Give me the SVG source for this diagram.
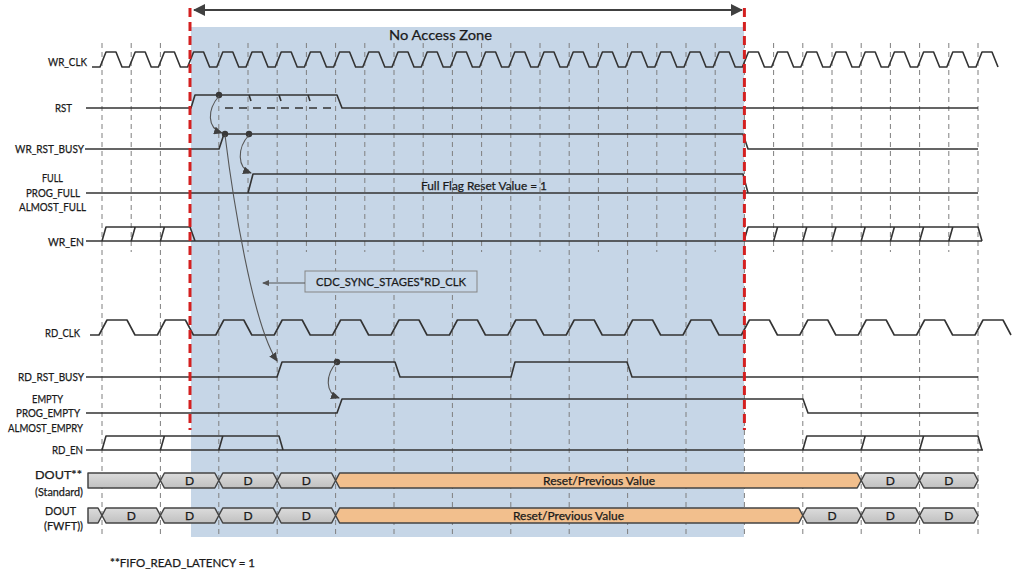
<svg xmlns="http://www.w3.org/2000/svg" width="1013" height="574" viewBox="0 0 1013 574">
<style>
text{font-family:Lato,"Open Sans","Liberation Sans",sans-serif;fill:#1a1a1a;stroke:#1a1a1a;stroke-width:0.25}
.lbl{font-size:11.8px}
.d{font-size:12px;text-anchor:middle}
.wave{fill:none;stroke:#333;stroke-width:1.6;stroke-linejoin:round}
.thin{fill:none;stroke:#555;stroke-width:1.1}
.grid{fill:none;stroke:#7f7f7f;stroke-width:1;stroke-dasharray:5 4}
.red{fill:none;stroke:#d42020;stroke-width:3;stroke-dasharray:9 5}
.bus{fill:url(#gg);stroke:#444;stroke-width:1.5;stroke-linejoin:round}
.org{fill:#f2bf8d;stroke:#444;stroke-width:1.5;stroke-linejoin:round}
.dot{fill:#383838}
</style>
<defs>
<linearGradient id="gg" x1="0" y1="0" x2="0" y2="1">
<stop offset="0" stop-color="#dcdcdc"/><stop offset="1" stop-color="#c0c0c0"/>
</linearGradient>
<marker id="ah" markerWidth="9" markerHeight="8" refX="8" refY="4" orient="auto" markerUnits="userSpaceOnUse"><path d="M0,0 L9,4 L0,8 Z" fill="#404040"/></marker>
<marker id="ahs" markerWidth="7" markerHeight="6" refX="6" refY="3" orient="auto" markerUnits="userSpaceOnUse"><path d="M0,0 L7,3 L0,6 Z" fill="#555"/></marker>
<marker id="big" markerWidth="12" markerHeight="12" refX="11" refY="6" orient="auto-start-reverse" markerUnits="userSpaceOnUse"><path d="M0,0 L12,6 L0,12 Z" fill="#404040"/></marker>
</defs>
<rect width="1013" height="574" fill="#fff"/>
<g id="zone">
<rect x="191" y="27" width="553" height="510" fill="#c6d6e7"/>
<text x="389" y="40" style="font-size:14px" textLength="103" lengthAdjust="spacingAndGlyphs">No Access Zone</text>
</g>
<g id="grid">
<path class="grid" d="M102,43V535 M160.4,43V535 M218.8,43V535 M277.2,43V535 M335.6,43V535 M394,43V535 M452.4,43V535 M510.8,43V535 M569.2,43V535 M627.6,43V535 M686,43V535 M744.4,43V535 M802.8,43V535 M861.2,43V535 M919.6,43V535 M978,43V535
M131.2,43V252 M248,43V252 M306.4,43V252 M364.8,43V252 M423.2,43V252 M481.6,43V252 M540,43V252 M598.4,43V252 M656.8,43V252 M715.2,43V252 M773.6,43V252 M832,43V252 M890.4,43V252 M948.8,43V252"/>
</g>
<g id="labels" class="lbl">
<text x="48" y="66" textLength="39" lengthAdjust="spacingAndGlyphs">WR_CLK</text>
<text x="55" y="112" textLength="17" lengthAdjust="spacingAndGlyphs">RST</text>
<text x="15" y="153" textLength="69" lengthAdjust="spacingAndGlyphs">WR_RST_BUSY</text>
<text x="42" y="182" textLength="21" lengthAdjust="spacingAndGlyphs">FULL</text>
<text x="26" y="197" textLength="54" lengthAdjust="spacingAndGlyphs">PROG_FULL</text>
<text x="19" y="211" textLength="67" lengthAdjust="spacingAndGlyphs">ALMOST_FULL</text>
<text x="48" y="246" textLength="36" lengthAdjust="spacingAndGlyphs">WR_EN</text>
<text x="45" y="337" textLength="35" lengthAdjust="spacingAndGlyphs">RD_CLK</text>
<text x="18" y="381" textLength="66" lengthAdjust="spacingAndGlyphs">RD_RST_BUSY</text>
<text x="32" y="403" textLength="31" lengthAdjust="spacingAndGlyphs">EMPTY</text>
<text x="16" y="417" textLength="64" lengthAdjust="spacingAndGlyphs">PROG_EMPTY</text>
<text x="8" y="432" textLength="75" lengthAdjust="spacingAndGlyphs">ALMOST_EMPRY</text>
<text x="52" y="454" textLength="31" lengthAdjust="spacingAndGlyphs">RD_EN</text>
<text x="35" y="479" textLength="47" lengthAdjust="spacingAndGlyphs">DOUT**</text>
<text x="35" y="496" textLength="48" lengthAdjust="spacingAndGlyphs">(Standard)</text>
<text x="45" y="515" textLength="31" lengthAdjust="spacingAndGlyphs">DOUT</text>
<text x="44" y="530" textLength="39" lengthAdjust="spacingAndGlyphs">(FWFT))</text>
<text x="110" y="567" textLength="145" lengthAdjust="spacingAndGlyphs">**FIFO_READ_LATENCY = 1</text>
</g>
<g id="wr_clk">
<path class="wave" d="M92,67 H100 l6,-15 h10 l6,15 h7.2 l6,-15 h10 l6,15 h7.2 l6,-15 h10 l6,15 h7.2 l6,-15 h10 l6,15 h7.2 l6,-15 h10 l6,15 h7.2 l6,-15 h10 l6,15 h7.2 l6,-15 h10 l6,15 h7.2 l6,-15 h10 l6,15 h7.2 l6,-15 h10 l6,15 h7.2 l6,-15 h10 l6,15 h7.2 l6,-15 h10 l6,15 h7.2 l6,-15 h10 l6,15 h7.2 l6,-15 h10 l6,15 h7.2 l6,-15 h10 l6,15 h7.2 l6,-15 h10 l6,15 h7.2 l6,-15 h10 l6,15 h7.2 l6,-15 h10 l6,15 h7.2 l6,-15 h10 l6,15 h7.2 l6,-15 h10 l6,15 h7.2 l6,-15 h10 l6,15 h7.2 l6,-15 h10 l6,15 h7.2 l6,-15 h10 l6,15 h7.2 l6,-15 h10 l6,15 h7.2 l6,-15 h10 l6,15 h7.2 l6,-15 h10 l6,15 h7.2 l6,-15 h10 l6,15 h7.2 l6,-15 h10 l6,15 h7.2 l6,-15 h10 l6,15 h7.2 l6,-15 h10 l6,15 h7.2 l6,-15 h10 l6,15 h7.2 l6,-15 h10 l6,15"/>
</g>
<g id="rst">
<path class="wave" d="M86,108 H191 L195,95 H337 L342,108 H978"/>
<path class="wave" d="M225,108 H337" stroke-dasharray="8 6"/>
<path class="wave" d="M249,95 L251,101 M279,95 L281,101 M308,95 L310,101"/>
<circle class="dot" cx="219" cy="95" r="3.2"/>
</g>
<g id="wr_rst_busy">
<path class="wave" d="M85,149 H219 L224,134 H743 L748,149 H978"/>
<circle class="dot" cx="225" cy="134" r="3.2"/>
<circle class="dot" cx="249" cy="134" r="3.2"/>
</g>
<g id="full">
<path class="wave" d="M86,193 H248 L253,174 H743 L748,193 M248,193 H978"/>
<text x="421" y="190" style="font-size:12px" textLength="126" lengthAdjust="spacingAndGlyphs">Full Flag Reset Value = 1</text>
</g>
<g id="wr_en">
<path class="wave" d="M86,241 H982 M102,241 L106,227 H190 L195,241 M131.2,241 L135.2,227 M160.4,241 L164.4,227 M744,241 L748,227 H978 L982,241 M773.6,241 L777.6,227 M802.8,241 L806.8,227 M832,241 L836,227 M861.2,241 L865.2,227 M890.4,241 L894.4,227 M919.6,241 L923.6,227 M948.8,241 L952.8,227"/>
</g>
<g id="cdc">
<rect x="305" y="271" width="172" height="21" fill="#c6d6e7" stroke="#858585" stroke-width="1"/>
<text x="316" y="286" style="font-size:12px" textLength="150" lengthAdjust="spacingAndGlyphs">CDC_SYNC_STAGES*RD_CLK</text>
</g>
<g id="rd_clk">
<path class="wave" d="M90,335 H99 l8,-15 h20 l8,15 h22.4 l8,-15 h20 l8,15 h22.4 l8,-15 h20 l8,15 h22.4 l8,-15 h20 l8,15 h22.4 l8,-15 h20 l8,15 h22.4 l8,-15 h20 l8,15 h22.4 l8,-15 h20 l8,15 h22.4 l8,-15 h20 l8,15 h22.4 l8,-15 h20 l8,15 h22.4 l8,-15 h20 l8,15 h22.4 l8,-15 h20 l8,15 h22.4 l8,-15 h20 l8,15 h22.4 l8,-15 h20 l8,15 h22.4 l8,-15 h20 l8,15 h22.4 l8,-15 h20 l8,15 h22.4 l8,-15 h20 l8,15"/>
</g>
<g id="rd_rst_busy">
<path class="wave" d="M86,377 H277 L282,362 H395 L400,377 H511 L515,362 H627 L632,377 H978"/>
<circle class="dot" cx="337" cy="362" r="3.2"/>
</g>
<g id="empty">
<path class="wave" d="M86,413 H337 L342,399 H803 L808,413 H978"/>
</g>
<g id="rd_en">
<path class="wave" d="M86,450 H983 M102,450 L106,436 H279 L283,450 M160.4,450 L164.4,436 M218.8,450 L222.8,436 M802.8,450 L806.8,436 H978 L982,450 M861.2,450 L865.2,436 M919.6,450 L923.6,436"/>
</g>
<g id="dout_std">
<path class="bus" d="M88,473 H156.4 L160.4,480.5 L156.4,488 H88 Z"/>
<path class="bus" d="M160.4,480.5 L164.4,473 H214.8 L218.8,480.5 L214.8,488 H164.4 Z"/>
<path class="bus" d="M218.8,480.5 L222.8,473 H273.2 L277.2,480.5 L273.2,488 H222.8 Z"/>
<path class="bus" d="M277.2,480.5 L281.2,473 H331.6 L335.6,480.5 L331.6,488 H281.2 Z"/>
<path class="org" d="M335.6,480.5 L339.6,473 H857.2 L861.2,480.5 L857.2,488 H339.6 Z"/>
<path class="bus" d="M861.2,480.5 L865.2,473 H915.6 L919.6,480.5 L915.6,488 H865.2 Z"/>
<path class="bus" d="M919.6,480.5 L923.6,473 H974 L978,480.5 L974,488 H923.6 Z"/>
<text class="d" x="189.6" y="485">D</text>
<text class="d" x="248" y="485">D</text>
<text class="d" x="306.4" y="485">D</text>
<text x="543" y="485" style="font-size:12px" textLength="112" lengthAdjust="spacingAndGlyphs">Reset/Previous Value</text>
<text class="d" x="890.4" y="485">D</text>
<text class="d" x="948.8" y="485">D</text>
</g>
<g id="dout_fwft">
<path class="bus" d="M88,508 H98 L102,515.5 L98,523 H88 Z"/>
<path class="bus" d="M102,515.5 L106,508 H156.4 L160.4,515.5 L156.4,523 H106 Z"/>
<path class="bus" d="M160.4,515.5 L164.4,508 H214.8 L218.8,515.5 L214.8,523 H164.4 Z"/>
<path class="bus" d="M218.8,515.5 L222.8,508 H273.2 L277.2,515.5 L273.2,523 H222.8 Z"/>
<path class="bus" d="M277.2,515.5 L281.2,508 H331.6 L335.6,515.5 L331.6,523 H281.2 Z"/>
<path class="org" d="M335.6,515.5 L339.6,508 H798.8 L802.8,515.5 L798.8,523 H339.6 Z"/>
<path class="bus" d="M802.8,515.5 L806.8,508 H857.2 L861.2,515.5 L857.2,523 H806.8 Z"/>
<path class="bus" d="M861.2,515.5 L865.2,508 H915.6 L919.6,515.5 L915.6,523 H865.2 Z"/>
<path class="bus" d="M919.6,515.5 L923.6,508 H974 L978,515.5 L974,523 H923.6 Z"/>
<text class="d" x="131.2" y="520">D</text>
<text class="d" x="189.6" y="520">D</text>
<text class="d" x="248" y="520">D</text>
<text class="d" x="306.4" y="520">D</text>
<text x="513" y="520" style="font-size:12px" textLength="111" lengthAdjust="spacingAndGlyphs">Reset/Previous Value</text>
<text class="d" x="832" y="520">D</text>
<text class="d" x="890.4" y="520">D</text>
<text class="d" x="948.8" y="520">D</text>
</g>
<g id="connectors">
<path class="red" d="M190,8 V430 M744.4,8 V430"/>
<path fill="none" stroke="#404040" stroke-width="2.2" d="M194,10 H742" marker-start="url(#big)" marker-end="url(#big)"/>
<path class="thin" d="M219,96 C207,110 207,128 222,133" marker-end="url(#ah)"/>
<path class="thin" d="M249,135 C237,148 237,168 251,173" marker-end="url(#ah)"/>
<path class="thin" d="M225,135 C233,200 253,325 277,361" marker-end="url(#ah)"/>
<path class="thin" d="M337,362 C325,375 325,393 339,398" marker-end="url(#ah)"/>
<path class="thin" d="M305,283 H263" marker-end="url(#ahs)"/>
</g>
</svg>
